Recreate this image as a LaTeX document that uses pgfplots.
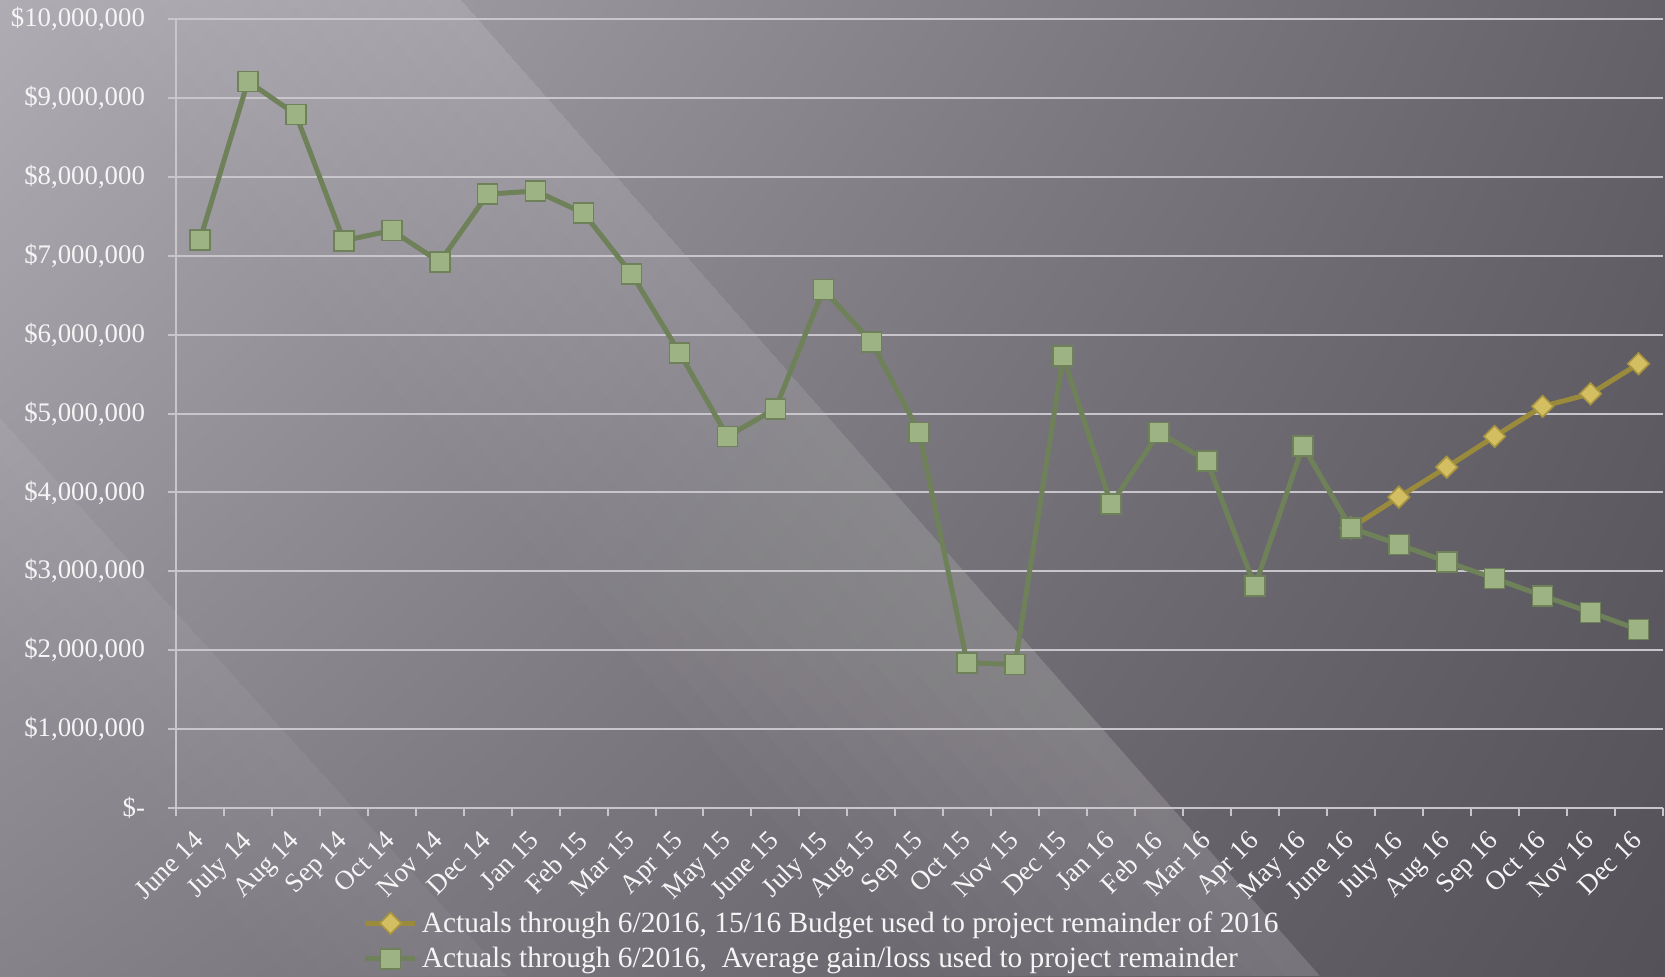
\documentclass[border=0pt]{standalone}
\usepackage{fontspec}
\setmainfont{Liberation Serif}
\usepackage{pgfplots}
\pgfplotsset{compat=1.18}
\usetikzlibrary{shadings}
\definecolor{cUL}{RGB}{176,172,180}
\definecolor{cUR}{RGB}{100,97,104}
\definecolor{cLL}{RGB}{134,130,138}
\definecolor{cLR}{RGB}{84,81,88}
\definecolor{gridc}{RGB}{200,198,202}
\definecolor{txt}{RGB}{245,245,245}
\definecolor{gline}{RGB}{111,129,89}
\definecolor{gfill}{RGB}{157,179,131}
\definecolor{oline}{RGB}{154,138,60}
\definecolor{ofill}{RGB}{212,190,98}
\definecolor{oedge}{RGB}{168,149,63}
\begin{document}
\begin{tikzpicture}
\useasboundingbox (0,0) rectangle (832.5pt,488pt);
\shade[upper left=cUL, upper right=cUR, lower left=cLL, lower right=cLR] (0,0) rectangle (832.5pt,488pt);
\begin{scope}
\clip (0,0) rectangle (832.5pt,488pt);
\foreach \k in {1,...,12}{
  \fill[white, opacity=0.016] ({230.5pt-17pt*\k},488pt) -- (230.5pt,488pt) -- (660pt,0pt) -- ({660pt-17pt*\k},0pt) -- cycle;
}
\foreach \k in {1,...,6}{
  \fill[white, opacity=0.010] ({-10pt-18pt*\k},290pt) -- (-10pt,290pt) -- (253pt,0pt) -- ({253pt-18pt*\k},0pt) -- cycle;
}
\end{scope}
\begin{axis}[
  at={(88pt,84pt)}, anchor=south west,
  scale only axis, width=743.25pt, height=394.5pt,
  xmin=-0.5, xmax=30.5, ymin=0, ymax=10000000,
  clip=false,
  axis lines*=left,
  axis line style={draw=gridc, line width=1pt, -},
  tick align=outside,
  major tick length=4pt, minor tick length=4pt,
  xtick={0,...,30},
  minor xtick={-0.5,0.5,...,30.5},
  major x tick style={draw=none},
  minor x tick style={draw=gridc, line width=1pt},
  ytick style={draw=gridc, line width=1pt},
  xticklabels={June 14,July 14,Aug 14,Sep 14,Oct 14,Nov 14,Dec 14,Jan 15,Feb 15,Mar 15,Apr 15,May 15,June 15,July 15,Aug 15,Sep 15,Oct 15,Nov 15,Dec 15,Jan 16,Feb 16,Mar 16,Apr 16,May 16,June 16,July 16,Aug 16,Sep 16,Oct 16,Nov 16,Dec 16},
  xticklabel style={xshift=-4pt, yshift=-5pt, rotate=45, anchor=north east, font=\fontsize{13.5}{15}\selectfont, text=txt, inner sep=1pt},
  ytick={0,1000000,2000000,3000000,4000000,5000000,6000000,7000000,8000000,9000000,10000000},
  yticklabels={{\$-},{\$1,000,000},{\$2,000,000},{\$3,000,000},{\$4,000,000},{\$5,000,000},{\$6,000,000},{\$7,000,000},{\$8,000,000},{\$9,000,000},{\$10,000,000}},
  scaled y ticks=false,
  yticklabel style={font=\fontsize{13.4}{15}\selectfont, text=txt, xshift=-8pt},
  ymajorgrids,
  grid style={draw=gridc, line width=1pt},
  legend style={at={(0.1255,-0.1255)}, anchor=north west, draw=none, fill=none,
    font=\fontsize{14.7}{16}\selectfont, text=txt, inner sep=0pt, row sep=2pt},
  legend cell align=left,
  legend image code/.code={\draw[mark repeat=2,mark phase=2,#1] plot coordinates {(0pt,0pt) (12.5pt,0pt) (25pt,0pt)};},
]
\addplot[color=oline, line width=2.5pt, mark=square*, mark size=3.8pt,
  mark options={rotate=45, fill=ofill, draw=oedge, line width=0.8pt}]
  coordinates {(24,3550000) (25,3940000) (26,4320000) (27,4710000) (28,5090000) (29,5250000) (30,5630000)};
\addlegendentry{Actuals through 6/2016, 15/16 Budget used to project remainder of 2016}
\addplot[color=gline, line width=2.5pt, mark=square*, mark size=5pt,
  mark options={fill=gfill, draw=gline, line width=0.8pt}]
  coordinates {
  (0,7200000) (1,9210000) (2,8790000) (3,7190000) (4,7320000) (5,6920000)
  (6,7780000) (7,7820000) (8,7540000) (9,6770000) (10,5770000) (11,4710000)
  (12,5060000) (13,6570000) (14,5910000) (15,4760000) (16,1840000) (17,1820000)
  (18,5730000) (19,3850000) (20,4760000) (21,4400000) (22,2810000) (23,4590000)
  (24,3550000) (25,3340000) (26,3120000) (27,2910000) (28,2690000) (29,2480000)
  (30,2260000)};
\addlegendentry{Actuals through 6/2016,~ Average gain/loss used to project remainder}
\end{axis}
\end{tikzpicture}
\end{document}
